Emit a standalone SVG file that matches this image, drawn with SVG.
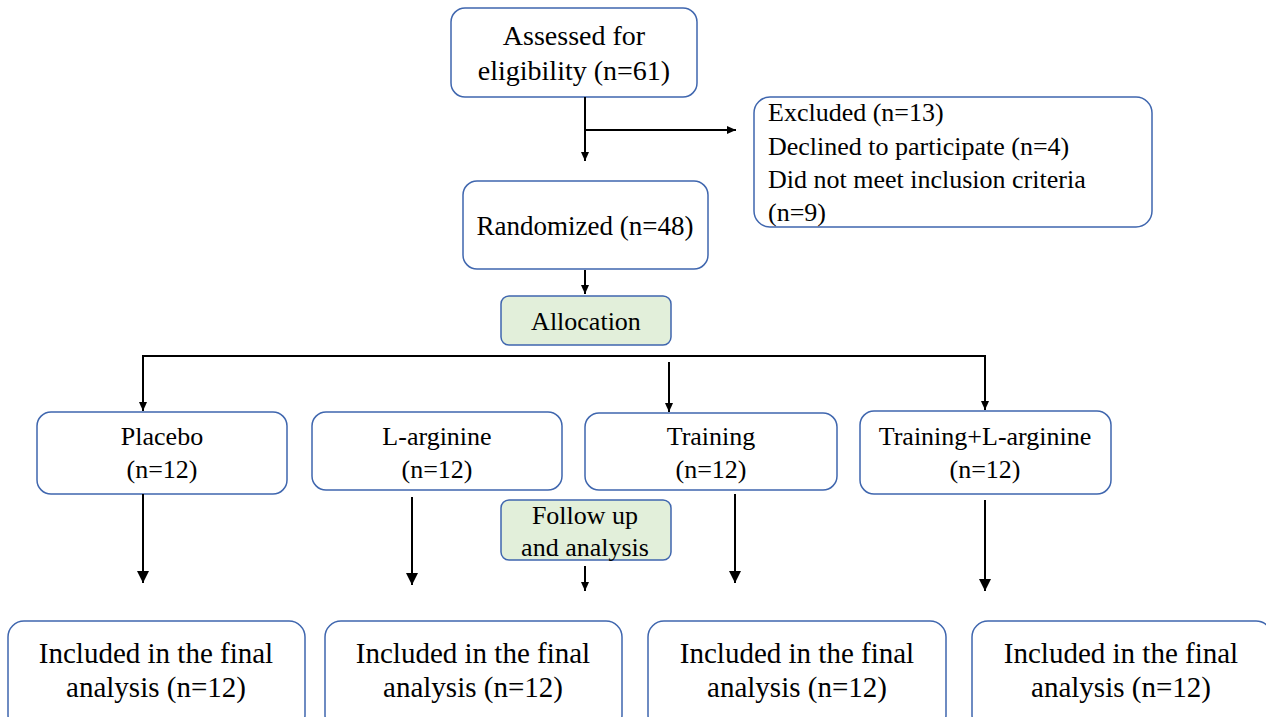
<svg xmlns="http://www.w3.org/2000/svg" width="1266" height="717" viewBox="0 0 1266 717">
<defs>
<marker id="ah" markerWidth="10" markerHeight="10" refX="9" refY="5" orient="auto" markerUnits="userSpaceOnUse">
<path d="M0,1 L9,5 L0,9 Z" fill="#000"/>
</marker>
<marker id="ahb" markerWidth="14" markerHeight="14" refX="12" refY="6" orient="auto" markerUnits="userSpaceOnUse">
<path d="M0,0 L12,6 L0,12 Z" fill="#000"/>
</marker>
<style>
.box{fill:#fff;stroke:#3f66ae;stroke-width:1.5}
.grn{fill:#e2efda;stroke:#3f66ae;stroke-width:1.5}
text{font-family:'Liberation Serif','DejaVu Serif',serif;fill:#000;font-size:26px}
.c{text-anchor:middle}
.s27{font-size:27px}
.s28{font-size:28px}
.s29{font-size:29px}
.ln{stroke:#000;stroke-width:2;fill:none}
</style>
</defs>
<rect width="1266" height="717" fill="#fff"/>
<g id="assessed">
<rect class="box" x="451" y="8" width="246" height="89" rx="14"/>
<text class="c s28" x="574" y="45">Assessed for</text>
<text class="c s28" x="574" y="80">eligibility (n=61)</text>
</g>
<g id="excluded">
<rect class="box" x="754" y="97" width="398" height="130" rx="16"/>
<text x="768" y="121">Excluded (n=13)</text>
<text x="768" y="155">Declined to participate (n=4)</text>
<text x="768" y="188">Did not meet inclusion criteria</text>
<text x="768" y="221">(n=9)</text>
</g>
<g id="randomized">
<rect class="box" x="463" y="181" width="245" height="88" rx="14"/>
<text class="c s27" x="585" y="235">Randomized (n=48)</text>
</g>
<g id="allocation">
<rect class="grn" x="501" y="296" width="170" height="49" rx="8"/>
<text class="c" x="586" y="330">Allocation</text>
</g>
<g id="placebo">
<rect class="box" x="37" y="412" width="250" height="82" rx="14"/>
<text class="c" x="162" y="445">Placebo</text>
<text class="c" x="162" y="478">(n=12)</text>
</g>
<g id="larginine">
<rect class="box" x="312" y="412" width="250" height="78" rx="14"/>
<text class="c" x="437" y="445">L-arginine</text>
<text class="c" x="437" y="478">(n=12)</text>
</g>
<g id="training">
<rect class="box" x="585" y="413" width="252" height="77" rx="14"/>
<text class="c" x="711" y="445">Training</text>
<text class="c" x="711" y="478">(n=12)</text>
</g>
<g id="trainingLarg">
<rect class="box" x="860" y="411" width="251" height="83" rx="14"/>
<text class="c" x="985" y="445">Training+L-arginine</text>
<text class="c" x="985" y="478">(n=12)</text>
</g>
<g id="followup">
<rect class="grn" x="501" y="500" width="170" height="60" rx="8"/>
<text class="c" x="585" y="524">Follow up</text>
<text class="c" x="585" y="556">and analysis</text>
</g>
<g id="final1">
<rect class="box" x="8" y="621" width="297" height="110" rx="16"/>
<text class="c s29" x="156" y="663">Included in the final</text>
<text class="c s29" x="156" y="697">analysis (n=12)</text>
</g>
<g id="final2">
<rect class="box" x="325" y="621" width="297" height="110" rx="16"/>
<text class="c s29" x="473" y="663">Included in the final</text>
<text class="c s29" x="473" y="697">analysis (n=12)</text>
</g>
<g id="final3">
<rect class="box" x="648" y="621" width="298" height="110" rx="16"/>
<text class="c s29" x="797" y="663">Included in the final</text>
<text class="c s29" x="797" y="697">analysis (n=12)</text>
</g>
<g id="final4">
<rect class="box" x="972" y="621" width="300" height="110" rx="16"/>
<text class="c s29" x="1121" y="663">Included in the final</text>
<text class="c s29" x="1121" y="697">analysis (n=12)</text>
</g>
<g id="connectors">
<line class="ln" x1="585" y1="97" x2="585" y2="161" marker-end="url(#ah)"/>
<line class="ln" x1="585" y1="130" x2="736" y2="130" marker-end="url(#ah)"/>
<line class="ln" x1="585" y1="270" x2="585" y2="294" marker-end="url(#ah)"/>
<polyline class="ln" points="143,411 143,356 985,356 985,410" marker-end="url(#ah)"/>
<line class="ln" x1="143" y1="356" x2="143" y2="411" marker-end="url(#ah)"/>
<line class="ln" x1="669" y1="362" x2="669" y2="412" marker-end="url(#ah)"/>
<line class="ln" x1="143" y1="494" x2="143" y2="583" marker-end="url(#ahb)"/>
<line class="ln" x1="412" y1="497" x2="412" y2="585" marker-end="url(#ahb)"/>
<line class="ln" x1="585" y1="566" x2="585" y2="591" marker-end="url(#ah)"/>
<line class="ln" x1="735" y1="494" x2="735" y2="583" marker-end="url(#ahb)"/>
<line class="ln" x1="985" y1="500" x2="985" y2="591" marker-end="url(#ahb)"/>
</g>
</svg>
